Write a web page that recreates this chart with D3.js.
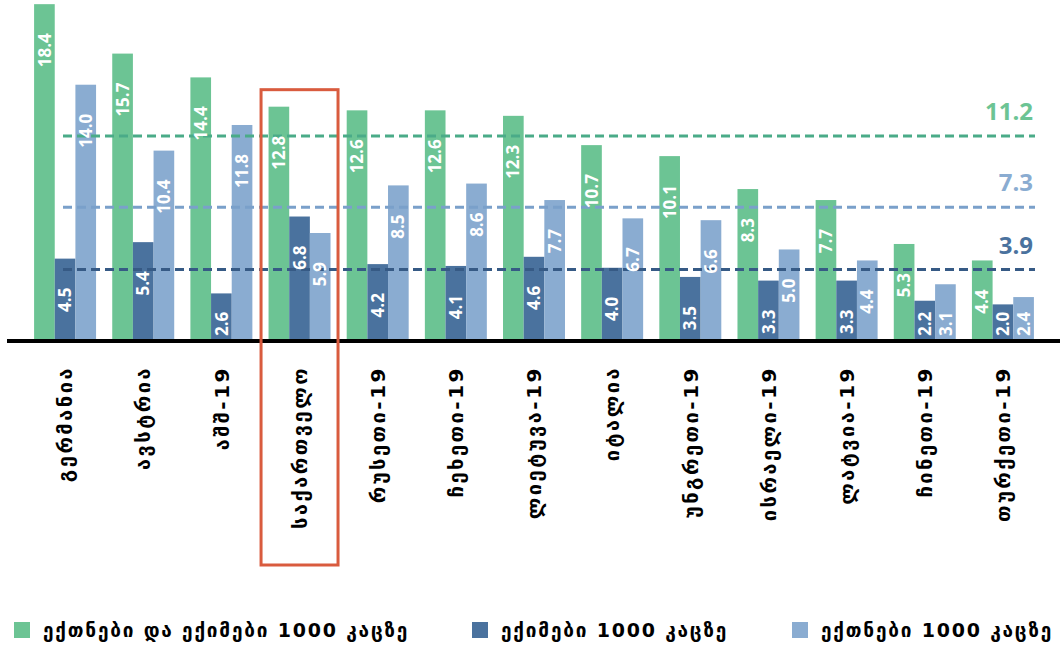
<!DOCTYPE html>
<html>
<head>
<meta charset="utf-8">
<script src="https://cdn.jsdelivr.net/npm/d3@7"></script>
<style>
  html, body { margin: 0; padding: 0; background: #ffffff; }
  svg { display: block; }
</style>
</head>
<body>
<svg id="chart" width="1062" height="647"></svg>
<script>
// Countries (the "-19" suffix marks 2019 figures)
const countries = [
  "გერმანია", "ავსტრია", "აშშ-19", "საქართველო", "რუსეთი-19", "ჩეხეთი-19",
  "ლიეტუვა-19", "იტალია", "უნგრეთი-19", "ისრაელი-19", "ლატვია-19", "ჩინეთი-19", "თურქეთი-19"
];
// Nurses and doctors per 1000 people
const totalPer1000 = [18.4, 15.7, 14.4, 12.8, 12.6, 12.6, 12.3, 10.7, 10.1, 8.3, 7.7, 5.3, 4.4];
// Doctors per 1000 people
const doctorsPer1000 = [4.5, 5.4, 2.6, 6.8, 4.2, 4.1, 4.6, 4.0, 3.5, 3.3, 3.3, 2.2, 2.0];
// Nurses per 1000 people
const nursesPer1000 = [14.0, 10.4, 11.8, 5.9, 8.5, 8.6, 7.7, 6.7, 6.6, 5.0, 4.4, 3.1, 2.4];
// Averages across the countries shown
const averages = [11.2, 3.9, 7.3];
const seriesKeys = ["total", "doctors", "nurses"];
const seriesNames = ["ექთნები და ექიმები 1000 კაცზე", "ექიმები 1000 კაცზე", "ექთნები 1000 კაცზე"];
const highlighted = "საქართველო";

const barColors = { total: "#6cc494", doctors: "#4a729e", nurses: "#8aacd1" };
const lineColors = { total: "#4aab88", doctors: "#365a85", nurses: "#7aa0ca" };

const rows = countries.map((c, i) => ({
  country: c,
  total: totalPer1000[i],
  doctors: doctorsPer1000[i],
  nurses: nursesPer1000[i]
}));
const cells = rows.flatMap(r => seriesKeys.map(k => ({ country: r.country, key: k, value: r[k] })));

const svg = d3.select("#chart");
const baseY = 341;

const x0 = d3.scaleBand().domain(countries).range([26, 1042]).paddingInner(0.207).paddingOuter(0.1035);
const x1 = d3.scaleBand().domain(seriesKeys).range([0, x0.bandwidth()]);
const y = d3.scaleLinear().domain([0, 18.3]).range([baseY, 6]);

// Bars
svg.append("g").selectAll("rect")
  .data(cells).join("rect")
  .attr("x", d => x0(d.country) + x1(d.key))
  .attr("y", d => y(d.value))
  .attr("width", x1.bandwidth())
  .attr("height", d => baseY - y(d.value))
  .attr("fill", d => barColors[d.key]);

// Average lines
const avgG = svg.append("g");
seriesKeys.forEach((k, i) => {
  avgG.append("line")
    .attr("x1", 63).attr("x2", 1035)
    .attr("y1", y(averages[i])).attr("y2", y(averages[i]))
    .attr("stroke", lineColors[k])
    .attr("stroke-width", 3)
    .attr("stroke-dasharray", "9,5");
  avgG.append("text")
    .attr("x", 1033)
    .attr("y", y(averages[i]) - 16)
    .attr("text-anchor", "end")
    .attr("font-family", "'Open Sans', sans-serif")
    .attr("font-weight", 700)
    .attr("font-size", 24)
    .attr("fill", barColors[k])
    .text(averages[i].toFixed(1));
});

// Value labels inside the bars
svg.append("g").selectAll("text")
  .data(cells).join("text")
  .attr("font-family", "'Open Sans', sans-serif")
  .attr("font-weight", 700)
  .attr("font-size", 17)
  .attr("fill", "#ffffff")
  .attr("text-anchor", "end")
  .attr("dy", "0.36em")
  .text(d => d.value.toFixed(1))
  .each(function (d) {
    const len = this.getComputedTextLength();
    const top = Math.min(y(d.value) + 29, baseY - 5 - len);
    d3.select(this).attr("transform",
      `translate(${x0(d.country) + x1(d.key) + x1.bandwidth() / 2},${top}) rotate(-90)`);
  });

// Baseline
svg.append("line")
  .attr("x1", 7).attr("x2", 1060)
  .attr("y1", baseY).attr("y2", baseY)
  .attr("stroke", "#000").attr("stroke-width", 4);

// Country labels
svg.append("g").selectAll("text")
  .data(countries).join("text")
  .attr("transform", d => `translate(${x0(d) + x0.bandwidth() / 2},366) rotate(-90)`)
  .attr("text-anchor", "end")
  .attr("dy", "0.36em")
  .attr("font-family", "'DejaVu Sans', sans-serif")
  .attr("font-weight", 700)
  .attr("font-size", 20)
  .attr("letter-spacing", 2.5)
  .attr("fill", "#000")
  .text(d => d);

// Highlight frame around Georgia
const hiRow = rows.find(r => r.country === highlighted);
const hiTop = y(d3.max(seriesKeys, k => hiRow[k])) - 17;
svg.append("rect")
  .attr("x", x0(highlighted) - 7.5)
  .attr("y", hiTop)
  .attr("width", x0.bandwidth() + 15)
  .attr("height", 565 - hiTop)
  .attr("fill", "none")
  .attr("stroke", "#d95b3e")
  .attr("stroke-width", 3);

// Legend
const legendX = [14, 472, 792];
const legend = svg.append("g").selectAll("g")
  .data(seriesKeys).join("g")
  .attr("transform", (d, i) => `translate(${legendX[i]},622)`);
legend.append("rect")
  .attr("width", 16).attr("height", 16)
  .attr("fill", d => barColors[d]);
legend.append("text")
  .attr("x", 29).attr("y", 15)
  .attr("font-family", "'DejaVu Sans', sans-serif")
  .attr("font-weight", 700)
  .attr("font-size", 19)
  .attr("letter-spacing", 1.8)
  .attr("fill", "#000")
  .text((d, i) => seriesNames[i]);
</script>
</body>
</html>
